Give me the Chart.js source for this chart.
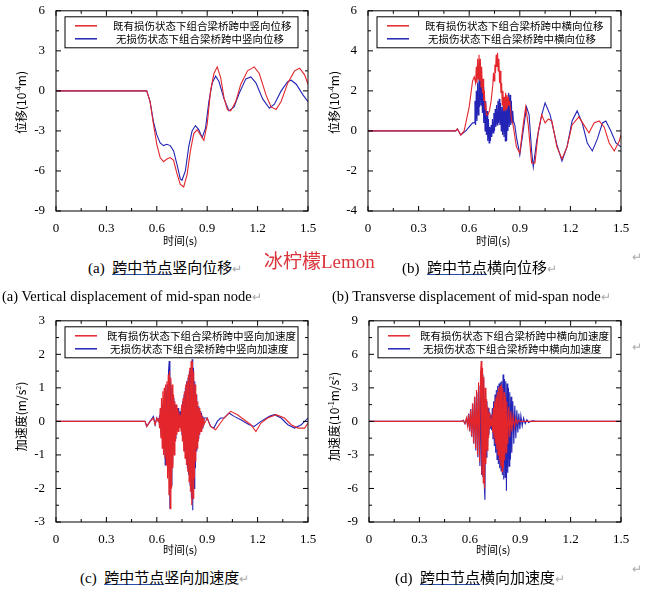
<!DOCTYPE html>
<html><head><meta charset="utf-8">
<script src="https://cdn.jsdelivr.net/npm/chart.js@4"></script>
<style>
body{margin:0;background:#fff;width:649px;height:595px;position:relative;overflow:hidden;font-family:'Liberation Serif',serif}
canvas{position:absolute}
.t{position:absolute;white-space:nowrap;color:#000}
.cn{font-family:'Noto Sans CJK SC',sans-serif}
.u{text-decoration:underline;text-decoration-color:#2a4fa8}
.yl{position:absolute;transform:rotate(-90deg);transform-origin:center;white-space:nowrap;font-size:12px;font-family:'Noto Sans CJK SC','Liberation Serif',serif}
.ret{color:#aaa;font-size:12px}
</style></head><body>
<div style="position:absolute;left:0;top:0;width:330px;height:250px"><canvas id="ca"></canvas></div>
<div style="position:absolute;left:312px;top:0;width:330px;height:250px"><canvas id="cb"></canvas></div>
<div style="position:absolute;left:0;top:310px;width:330px;height:250px"><canvas id="cc"></canvas></div>
<div style="position:absolute;left:312px;top:310px;width:330px;height:250px"><canvas id="cd"></canvas></div>

<div class="t cn" style="left:163px;top:232px;font-size:11px">时间(s)</div>
<div class="t cn" style="left:476px;top:232px;font-size:11px">时间(s)</div>
<div class="t cn" style="left:163px;top:541px;font-size:11px">时间(s)</div>
<div class="t cn" style="left:476px;top:541px;font-size:11px">时间(s)</div>

<div class="yl" style="left:-20px;top:94px;width:80px;text-align:center">位移(10<sup style="font-size:7px">-4</sup>m)</div>
<div class="yl" style="left:293px;top:94px;width:80px;text-align:center">位移(10<sup style="font-size:7px">-4</sup>m)</div>
<div class="yl" style="left:-25px;top:408px;width:90px;text-align:center">加速度(m/s<sup style="font-size:7px">2</sup>)</div>
<div class="yl" style="left:278px;top:408px;width:110px;text-align:center">加速度(10<sup style="font-size:7px">-1</sup>m/s<sup style="font-size:7px">2</sup>)</div>

<div class="t" style="left:88px;top:256px;font-size:15px">(a)&nbsp; <span class="cn u">跨中节点</span><span class="cn">竖向位移</span><span class="ret">↵</span></div>
<div class="t cn" style="left:264px;top:246px;font-size:19px;color:#d9343a;font-family:'Noto Sans CJK SC','Liberation Serif',serif">冰柠檬<span style="font-family:'Liberation Serif'">Lemon</span></div>
<div class="t" style="left:402px;top:256px;font-size:15px">(b)&nbsp; <span class="cn u">跨中节点</span><span class="cn">横向位移</span><span class="ret">↵</span></div>
<div class="t ret" style="left:632px;top:250px">↵</div>
<div class="t" style="left:2px;top:288px;font-size:14.5px">(a) Vertical displacement of mid-span node<span class="ret">↵</span></div>
<div class="t" style="left:332px;top:288px;font-size:14.5px">(b) Transverse displacement of mid-span node<span class="ret">↵</span></div>
<div class="t" style="left:80px;top:566px;font-size:15px">(c)&nbsp; <span class="cn u">跨中节点</span><span class="cn">竖向加速度</span><span class="ret">↵</span></div>
<div class="t" style="left:395px;top:566px;font-size:15px">(d)&nbsp; <span class="cn u">跨中节点</span><span class="cn">横向加速度</span><span class="ret">↵</span></div>
<div class="t ret" style="left:632px;top:562px">↵</div>
<div class="t ret" style="left:632px;top:340px">↵</div>

<script>
// ---- data: flat [t, value, t, value, ...] ----
const aRed=[0,0,0.54,0,0.56,-0.8,0.58,-2.5,0.60,-4,0.62,-5,0.64,-5.3,0.66,-5.1,0.68,-5.0,0.70,-5.2,0.72,-6.2,0.74,-7.0,0.76,-7.2,0.78,-6.3,0.80,-4.5,0.82,-3.2,0.84,-2.9,0.86,-3.3,0.88,-3.7,0.90,-2.5,0.92,0,0.94,1.3,0.96,1.8,0.98,1.0,1.00,-0.5,1.02,-1.4,1.04,-1.5,1.07,-0.8,1.10,0.5,1.14,1.5,1.18,1.8,1.21,1.3,1.25,-0.3,1.28,-1.2,1.31,-1.4,1.34,-0.8,1.38,0.6,1.42,1.5,1.45,1.7,1.48,1.2,1.5,0.5];
const aBlue=[0,0,0.54,0,0.56,-0.8,0.58,-2.3,0.60,-3.3,0.62,-3.9,0.64,-4.1,0.66,-4.0,0.68,-4.1,0.70,-4.5,0.72,-5.5,0.74,-6.6,0.75,-6.7,0.77,-6.0,0.79,-4.2,0.81,-3.0,0.83,-2.6,0.85,-2.9,0.87,-3.5,0.89,-2.8,0.91,-0.8,0.93,0.6,0.95,1.1,0.97,0.7,1.00,-0.6,1.03,-1.5,1.06,-1.2,1.09,-0.2,1.13,0.9,1.16,1.05,1.19,0.6,1.23,-0.6,1.27,-1.3,1.30,-1.0,1.34,0.0,1.38,0.7,1.40,0.8,1.43,0.5,1.47,-0.3,1.5,-0.8];
const bRed=[0,0,0.52,0,0.53,0.1,0.55,-0.2,0.57,0,0.60,1.2,0.62,2.5,0.63,2.7,0.634,2.7,0.638,2.4,0.642,3.2,0.646,2.4,0.650,3.6,0.654,2.6,0.658,3.8,0.662,2.5,0.666,3.6,0.670,2.2,0.674,3.2,0.678,1.9,0.682,2.6,0.686,1.5,0.690,2.0,0.694,1.1,0.698,1.4,0.702,0.8,0.710,0.8,0.72,1.0,0.73,1.5,0.74,2.3,0.744,2.9,0.748,2.5,0.752,3.3,0.756,2.9,0.760,3.8,0.764,3.2,0.768,3.9,0.772,3.0,0.776,3.6,0.780,2.4,0.784,3.0,0.788,1.9,0.792,2.4,0.796,1.3,0.800,2.0,0.804,1.0,0.808,1.7,0.812,1.0,0.816,1.9,0.820,1.1,0.824,1.8,0.828,1.2,0.832,1.7,0.836,1.3,0.84,1.5,0.85,0.6,0.86,0.3,0.88,-0.8,0.90,-1.1,0.92,0.3,0.935,1.2,0.95,0.3,0.97,-1.6,0.99,-1.6,1.01,0,1.03,0.8,1.05,0.4,1.07,0.6,1.09,0.5,1.12,-0.8,1.15,-1.4,1.18,-0.8,1.21,0.3,1.25,0.7,1.28,0.3,1.31,-0.1,1.34,0.4,1.37,0.5,1.40,0.2,1.43,-0.6,1.46,-1.0,1.49,-0.5,1.5,-0.2];
const bBlue=[0,0,0.52,0,0.53,0.1,0.55,-0.2,0.58,0,0.62,0.4,0.630,0.4,0.634,1.5,0.638,0.3,0.642,2.0,0.646,0.5,0.650,2.4,0.654,0.8,0.658,2.8,0.662,1.2,0.666,3.0,0.670,1.3,0.674,2.6,0.678,0.9,0.682,2.2,0.686,0.4,0.690,1.8,0.694,0.0,0.698,1.5,0.702,-0.2,0.706,1.0,0.710,-0.5,0.714,0.6,0.718,-0.6,0.722,0.2,0.726,-0.5,0.730,0.3,0.734,-0.3,0.738,0.6,0.742,-0.1,0.746,0.9,0.750,0.0,0.754,1.1,0.758,0.2,0.762,1.3,0.766,0.3,0.770,1.5,0.774,0.4,0.778,1.6,0.782,0.3,0.786,1.4,0.790,0.0,0.794,1.2,0.798,-0.2,0.802,1.5,0.806,-0.3,0.810,1.6,0.814,-0.5,0.818,1.4,0.822,-0.5,0.826,1.2,0.830,0.0,0.834,1.9,0.838,0.2,0.842,1.8,0.846,0.3,0.850,1.5,0.854,0.4,0.858,1.0,0.862,0.5,0.870,0.3,0.88,-0.3,0.90,-1.2,0.92,0,0.94,1.2,0.955,0.8,0.97,-1.0,0.98,-1.8,1.00,-0.5,1.03,0.8,1.05,1.4,1.08,0.8,1.12,-0.7,1.15,-1.5,1.18,-0.8,1.21,0.5,1.24,1.0,1.27,0.4,1.30,-0.6,1.33,-1.0,1.36,-0.4,1.39,0.4,1.41,0.5,1.44,0,1.47,-0.6,1.5,-0.8];
const cRed=[0,0,0.53,0,0.54,-0.15,0.56,0,0.58,0.1,0.59,-0.1,0.60,0.1,0.608,0,0.612,0.1,0.616,-0.2,0.620,0.4,0.624,-0.5,0.628,0.7,0.632,-0.8,0.636,0.9,0.640,-1.0,0.644,1.0,0.648,-1.1,0.652,1.1,0.656,-1.3,0.660,1.2,0.664,-1.7,0.668,1.4,0.672,-2.2,0.676,1.5,0.680,-2.6,0.684,1.3,0.688,-2.0,0.692,1.1,0.696,-1.4,0.700,0.8,0.704,-1.0,0.708,0.6,0.712,-0.6,0.716,0.5,0.720,-0.4,0.724,0.4,0.728,-0.3,0.732,0.3,0.736,-0.2,0.740,0.2,0.744,-0.3,0.748,0.5,0.752,-0.6,0.756,0.7,0.760,-0.9,0.764,0.9,0.768,-1.1,0.772,1.1,0.776,-1.3,0.780,1.2,0.784,-1.5,0.788,1.4,0.792,-1.8,0.796,1.6,0.800,-2.1,0.804,1.8,0.808,-2.5,0.812,1.8,0.816,-2.3,0.820,1.5,0.824,-1.7,0.828,1.1,0.832,-1.2,0.836,0.8,0.840,-0.8,0.844,0.6,0.848,-0.6,0.852,0.4,0.856,-0.4,0.860,0.3,0.864,-0.3,0.868,0.2,0.872,-0.2,0.876,0.1,0.880,-0.1,0.90,0.1,0.92,-0.15,0.95,-0.25,1.0,0.1,1.04,0.3,1.08,0.2,1.12,0.05,1.16,-0.1,1.19,-0.3,1.22,-0.05,1.26,0.1,1.31,0.2,1.36,0.1,1.4,-0.1,1.44,-0.2,1.48,-0.2,1.5,-0.05];
const cBlue=[0,0,0.53,0,0.54,-0.15,0.56,0,0.58,0.15,0.59,-0.1,0.60,0.1,0.61,0,0.614,0.1,0.618,-0.2,0.622,0.3,0.626,-0.4,0.630,0.5,0.634,-0.6,0.638,0.6,0.642,-0.8,0.646,0.8,0.650,-1.3,0.654,0.9,0.658,-1.0,0.662,1.1,0.666,-1.5,0.670,1.5,0.674,1.8,0.678,-2.6,0.682,1.2,0.686,-1.9,0.690,1.0,0.694,-1.3,0.698,0.7,0.702,-0.9,0.706,0.5,0.710,-0.5,0.714,0.5,0.718,-0.3,0.722,0.4,0.726,-0.2,0.730,0.4,0.734,-0.1,0.738,0.3,0.742,-0.1,0.746,0.4,0.750,-0.4,0.754,0.6,0.758,-0.6,0.762,0.8,0.766,-0.9,0.770,1.0,0.774,-1.1,0.778,1.2,0.782,-1.4,0.786,1.3,0.790,-1.6,0.794,1.5,0.798,-1.9,0.802,1.6,0.806,-2.3,0.810,1.85,0.814,-2.65,0.818,1.6,0.822,-2.0,0.826,1.2,0.830,-1.4,0.834,0.8,0.838,-0.9,0.842,0.45,0.846,-0.5,0.850,0.45,0.854,-0.4,0.858,0.3,0.862,-0.3,0.866,0.25,0.870,-0.2,0.874,0.15,0.878,-0.15,0.882,0.1,0.90,0.1,0.92,-0.15,0.94,-0.2,0.96,0,0.98,0.1,1.0,0.1,1.03,0.25,1.06,0.15,1.1,0.05,1.15,-0.1,1.18,-0.15,1.22,0,1.27,0.15,1.3,0.2,1.34,0.1,1.38,-0.1,1.42,-0.2,1.46,-0.1,1.5,0.1];
const dRed=[0,0,0.55,0,0.560,0.1,0.570,-0.2,0.580,0.3,0.586,-0.4,0.592,0.6,0.598,-0.8,0.604,1.0,0.610,-1.3,0.616,1.6,0.622,-1.9,0.628,2.2,0.634,-2.4,0.640,2.8,0.646,-3.0,0.652,3.5,0.658,-3.6,0.664,4.4,0.668,5.4,0.672,-4.8,0.676,4.8,0.680,-5.5,0.684,4.0,0.688,-6.0,0.692,3.0,0.696,-3.8,0.700,2.0,0.704,-2.6,0.708,1.3,0.712,-1.5,0.716,0.8,0.720,-0.6,0.724,0.3,0.728,-0.4,0.732,0.6,0.736,-1.0,0.740,1.2,0.744,-1.5,0.748,1.8,0.752,-2.0,0.756,2.2,0.760,-2.5,0.764,2.6,0.768,-3.0,0.772,3.0,0.776,-3.5,0.780,3.2,0.784,-4.0,0.788,3.3,0.792,-4.5,0.796,3.0,0.800,-4.2,0.804,2.6,0.808,-3.5,0.812,2.2,0.816,-2.8,0.820,1.8,0.826,-2.0,0.832,1.3,0.838,-1.4,0.844,0.9,0.850,-0.9,0.858,0.5,0.866,-0.5,0.874,0.3,0.882,-0.2,0.890,0.1,0.90,0,1.5,0];
const dBlue=[0,0,0.55,0,0.562,0.1,0.572,-0.2,0.582,0.3,0.588,-0.5,0.594,0.7,0.600,-0.9,0.606,1.1,0.612,-1.4,0.618,1.6,0.624,-2.0,0.630,2.2,0.636,-2.6,0.642,2.6,0.648,-3.2,0.654,3.2,0.660,-4.0,0.666,4.4,0.670,-4.8,0.674,4.2,0.678,-5.0,0.682,3.8,0.686,-5.5,0.690,-7.0,0.694,2.6,0.698,-3.2,0.702,1.8,0.706,-2.2,0.710,1.2,0.714,-1.2,0.718,0.8,0.722,-0.6,0.726,0.6,0.730,-0.8,0.734,1.2,0.738,-1.6,0.742,1.8,0.746,-2.2,0.750,2.4,0.754,-2.8,0.758,2.8,0.762,-3.4,0.766,3.2,0.770,-3.8,0.774,3.4,0.778,-4.2,0.782,3.5,0.786,-4.4,0.790,3.6,0.794,-4.8,0.798,4.2,0.802,-5.2,0.806,3.8,0.810,-5.0,0.814,3.6,0.818,-6.2,0.822,3.4,0.826,-4.6,0.830,3.0,0.834,-4.0,0.838,2.6,0.842,-3.4,0.846,2.2,0.850,-2.8,0.856,1.8,0.862,-2.0,0.868,1.4,0.874,-1.5,0.880,1.0,0.886,-1.0,0.892,0.7,0.898,-0.7,0.904,0.5,0.912,-0.4,0.920,0.3,0.930,-0.2,0.940,0.15,0.950,-0.1,0.97,0.05,1.0,0,1.5,0];
const xTicks=[0,0.3,0.6,0.9,1.2,1.5];
const labelsA=['既有损伤状态下组合梁桥跨中竖向位移','无损伤状态下组合梁桥跨中竖向位移'];
const labelsB=['既有损伤状态下组合梁桥跨中横向位移','无损伤状态下组合梁桥跨中横向位移'];
const labelsC=['既有损伤状态下组合梁桥跨中竖向加速度','无损伤状态下组合梁桥跨中竖向加速度'];
const labelsD=['既有损伤状态下组合梁桥跨中横向加速度','无损伤状态下组合梁桥跨中横向加速度'];

const RED='#e3262c', BLUE='#2323b5';
const pairs=a=>{const o=[];for(let i=0;i<a.length;i+=2)o.push({x:a[i],y:a[i+1]});return o;};

const frame={id:'frame',afterDraw(ch,args,opt){
  const c=ch.ctx,a=ch.chartArea,xs=ch.scales.x,ys=ch.scales.y;
  c.save();c.strokeStyle='#000';c.lineWidth=1;
  c.strokeRect(a.left,a.top,a.right-a.left,a.bottom-a.top);
  c.beginPath();
  for(let v=xs.min;v<=xs.max+1e-9;v+=0.15){const px=xs.getPixelForValue(v);const maj=Math.abs(v/0.3-Math.round(v/0.3))<1e-6;const L=maj?5:3;
    c.moveTo(px,a.bottom);c.lineTo(px,a.bottom-L);c.moveTo(px,a.top);c.lineTo(px,a.top+L);}
  const st=opt.step;
  for(let v=ys.min;v<=ys.max+1e-9;v+=st/2){const py=ys.getPixelForValue(v);const maj=Math.abs((v-ys.min)/st-Math.round((v-ys.min)/st))<1e-6;const L=maj?5:3;
    c.moveTo(a.left,py);c.lineTo(a.left+L,py);c.moveTo(a.right,py);c.lineTo(a.right-L,py);}
  c.stroke();
  // legend box
  const bx=a.left+opt.lx,by=a.top+6,bw=a.right-a.left-opt.lx-opt.rx,bh=31;
  c.fillStyle='#fff';c.fillRect(bx,by,bw,bh);c.strokeRect(bx,by,bw,bh);
  c.font="10.5px 'Noto Sans CJK SC'";c.textBaseline='middle';
  ch.data.datasets.forEach((d,i)=>{const yy=by+9+i*13;c.strokeStyle=d.borderColor;c.lineWidth=1.5;
    c.beginPath();c.moveTo(bx+10,yy);c.lineTo(bx+32,yy);c.stroke();c.fillStyle='#000';c.fillText(d.label,bx+opt.tx+i*3,yy);});
  c.restore();
}};

function make(id,red,blue,labels,ymin,ymax,step,padL,padT,padR,xH,lg){
  new Chart(document.getElementById(id),{type:'line',
    data:{datasets:[
      {label:labels[0],data:pairs(red),borderColor:RED,borderWidth:1.1,pointRadius:0,tension:0},
      {label:labels[1],data:pairs(blue),borderColor:BLUE,borderWidth:1.1,pointRadius:0,tension:0}]},
    options:{responsive:true,maintainAspectRatio:false,animation:false,events:[],
      layout:{padding:{left:0,top:padT,right:padR,bottom:0}},
      plugins:{legend:{display:false},tooltip:{enabled:false},frame:lg},
      scales:{
        x:{type:'linear',min:0,max:1.5,afterBuildTicks:s=>{s.ticks=xTicks.map(v=>({value:v}));},
          grid:{display:false},border:{display:false},
          ticks:{color:'#000',padding:2,maxRotation:0,font:{family:'Liberation Serif',size:13},callback:v=>String(v)},
          afterFit:s=>{s.height=xH;}},
        y:{min:ymin,max:ymax,grid:{display:false},border:{display:false},
          ticks:{stepSize:step,color:'#000',padding:3,font:{family:'Liberation Serif',size:13}},
          afterFit:s=>{s.width=padL;}}
      }},plugins:[frame]});
}
make('ca',aRed,aBlue,labelsA,-9,6,3,56,7,22,39,{step:3,lx:9,rx:10,tx:48});
make('cb',bRed,bBlue,labelsB,-4,6,2,56,7,21,39,{step:2,lx:9,rx:10,tx:48});
make('cc',cRed,cBlue,labelsC,-3,3,1,56,10,22,38,{step:1,lx:9,rx:10,tx:42});
make('cd',dRed,dBlue,labelsD,-9,9,3,57,10,21,38,{step:3,lx:9,rx:10,tx:42});
</script></body></html>
